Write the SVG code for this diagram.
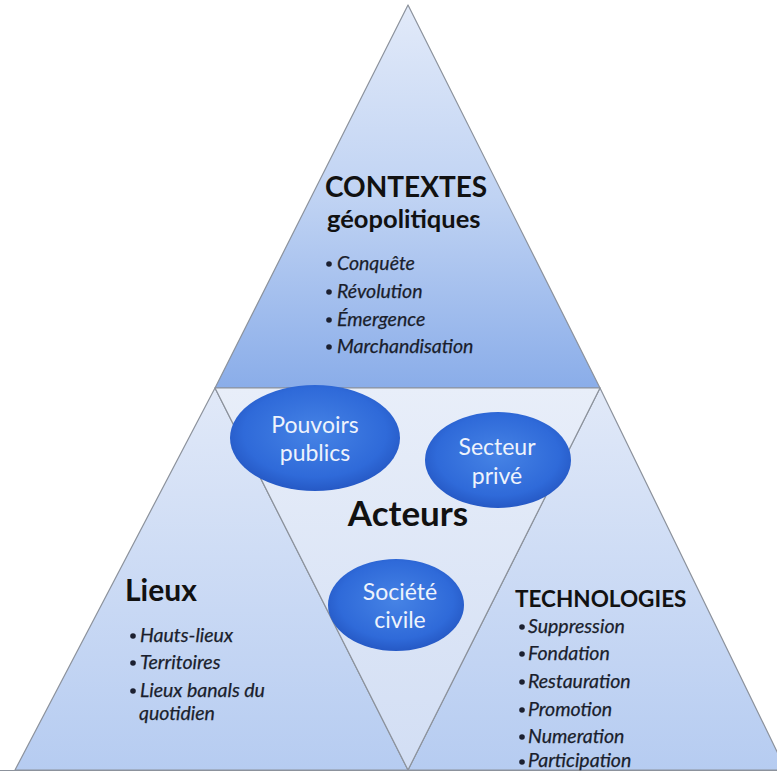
<svg xmlns="http://www.w3.org/2000/svg" width="777" height="773" viewBox="0 0 777 773">
<defs>
<linearGradient id="gTop" gradientUnits="userSpaceOnUse" x1="0" y1="5" x2="0" y2="388">
<stop offset="0" stop-color="#e2eaf9"/><stop offset="0.5" stop-color="#c0d3f3"/><stop offset="1" stop-color="#8aade9"/>
</linearGradient>
<linearGradient id="gSide" gradientUnits="userSpaceOnUse" x1="0" y1="388" x2="0" y2="770">
<stop offset="0" stop-color="#e1e9f8"/><stop offset="1" stop-color="#b6ccf1"/>
</linearGradient>
<linearGradient id="gMid" gradientUnits="userSpaceOnUse" x1="0" y1="388" x2="0" y2="770">
<stop offset="0" stop-color="#e8eef9"/><stop offset="1" stop-color="#d2def4"/>
</linearGradient>
<radialGradient id="gEll" cx="0.5" cy="0.45" r="0.6">
<stop offset="0" stop-color="#4683e5"/><stop offset="0.7" stop-color="#2f6ad9"/><stop offset="1" stop-color="#2252bd"/>
</radialGradient>
<clipPath id="page"><rect x="0" y="0" width="777" height="771"/></clipPath>
</defs>
<style>
.tri{stroke:#8c929c;stroke-width:1.2;stroke-linejoin:round}
.ell{fill:url(#gEll)}
.h{font-family:Lato,"Open Sans","Liberation Sans",sans-serif;font-weight:bold;fill:#111}
.li{font-family:Lato,"Open Sans","Liberation Sans",sans-serif;font-style:italic;font-size:19.5px;fill:#1a1e2c;stroke:#1a1e2c;stroke-width:0.25}
.bul{fill:#1c2030}
.et{font-family:Lato,"Open Sans","Liberation Sans",sans-serif;font-size:23px;fill:#eef3fc;text-anchor:middle}
</style>
<rect width="777" height="773" fill="#ffffff"/>
<g clip-path="url(#page)">
<g id="contextes">
<polygon class="tri" fill="url(#gTop)" points="408,5 215,388 600,388"/>
<text class="h" x="325" y="197" font-size="28">CONTEXTES</text>
<text class="h" x="327" y="228" font-size="25.5">géopolitiques</text>
<circle class="bul" cx="329" cy="264" r="2.8"/><text class="li" x="337" y="270">Conquête</text>
<circle class="bul" cx="329" cy="292" r="2.8"/><text class="li" x="337" y="298">Révolution</text>
<circle class="bul" cx="329" cy="320" r="2.8"/><text class="li" x="337" y="326">Émergence</text>
<circle class="bul" cx="329" cy="347" r="2.8"/><text class="li" x="337" y="353">Marchandisation</text>
</g>
<g id="lieux">
<polygon class="tri" fill="url(#gSide)" points="215,388 15,770 408,770"/>
<text class="h" x="125" y="601" font-size="30">Lieux</text>
<circle class="bul" cx="133" cy="636" r="2.8"/><text class="li" x="140" y="642">Hauts-lieux</text>
<circle class="bul" cx="133" cy="663" r="2.8"/><text class="li" x="140" y="669">Territoires</text>
<circle class="bul" cx="133" cy="691" r="2.8"/><text class="li" x="140" y="697">Lieux banals du</text>
<text class="li" x="139" y="720">quotidien</text>
</g>
<g id="technologies">
<polygon class="tri" fill="url(#gSide)" points="600,388 408,770 786,770"/>
<text class="h" x="515" y="607" font-size="22.5">TECHNOLOGIES</text>
<circle class="bul" cx="522" cy="627" r="2.8"/><text class="li" x="528" y="633">Suppression</text>
<circle class="bul" cx="522" cy="654" r="2.8"/><text class="li" x="528" y="660">Fondation</text>
<circle class="bul" cx="522" cy="682" r="2.8"/><text class="li" x="528" y="688">Restauration</text>
<circle class="bul" cx="522" cy="710" r="2.8"/><text class="li" x="528" y="716">Promotion</text>
<circle class="bul" cx="522" cy="737" r="2.8"/><text class="li" x="528" y="743">Numeration</text>
</g>
<g id="acteurs">
<polygon class="tri" fill="url(#gMid)" points="215,388 600,388 408,770"/>
<text class="h" x="408" y="526" font-size="35" text-anchor="middle">Acteurs</text>
</g>
<g id="pouvoirs-publics">
<ellipse class="ell" cx="315" cy="438" rx="85" ry="53"/>
<text class="et" x="315" y="433">Pouvoirs</text>
<text class="et" x="315" y="461">publics</text>
</g>
<g id="secteur-prive">
<ellipse class="ell" cx="498" cy="460" rx="73" ry="48"/>
<text class="et" x="497" y="455">Secteur</text>
<text class="et" x="497" y="484">privé</text>
</g>
<g id="societe-civile">
<ellipse class="ell" cx="396" cy="605" rx="68" ry="46"/>
<text class="et" x="400" y="600">Société</text>
<text class="et" x="400" y="628">civile</text>
</g>
<g id="connectors"/>
</g>
<line x1="0" y1="770.5" x2="777" y2="770.5" stroke="#8c929c" stroke-width="1.2"/>
<g id="technologies-last">
<circle class="bul" cx="522" cy="762" r="2.8"/><text class="li" x="528" y="767">Participation</text>
</g>
</svg>
